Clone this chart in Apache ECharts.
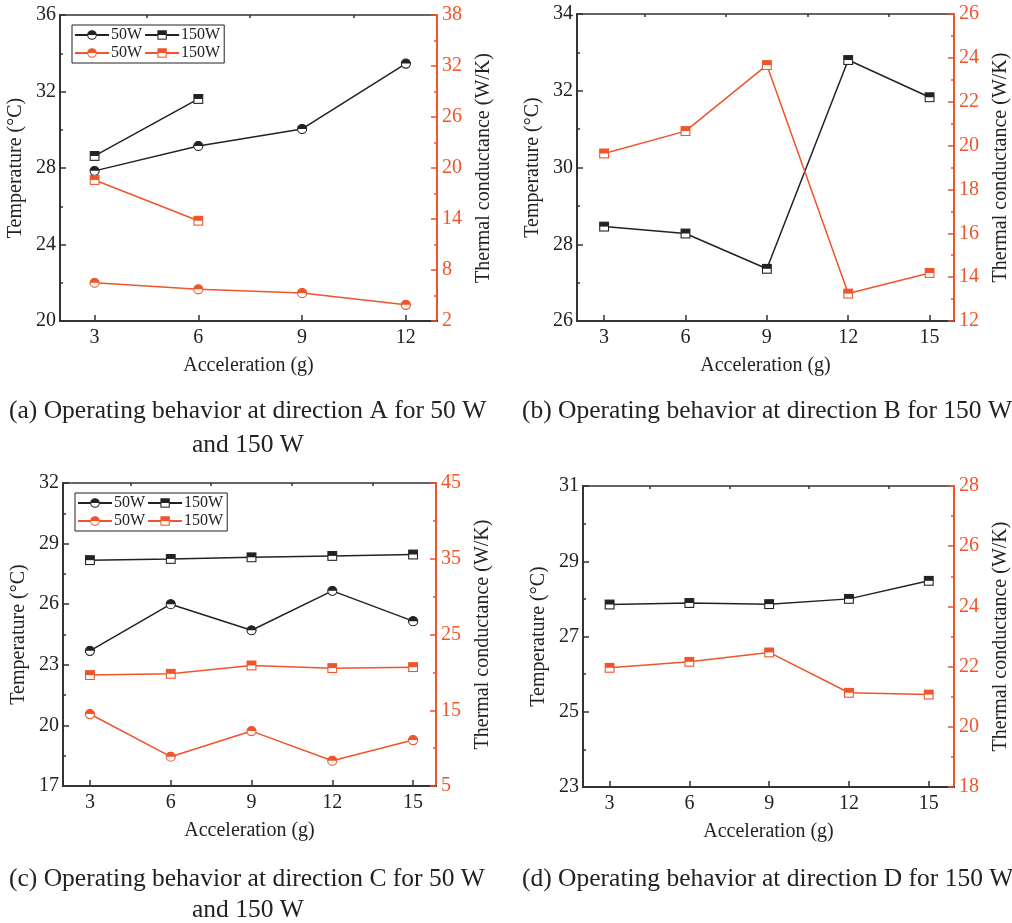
<!DOCTYPE html>
<html>
<head>
<meta charset="utf-8">
<script src="https://cdn.jsdelivr.net/npm/echarts@6/dist/echarts.min.js"></script>
<style>
  html, body { margin: 0; padding: 0; background: #fff; }
  #chart { width: 1012px; height: 923px; }
</style>
</head>
<body>
<div id="chart"></div>
<script>
// acceleration (g)
const accelA = [3, 6, 9, 12]
const accelA150 = [3, 6]
const accel = [3, 6, 9, 12, 15]

// (a) direction A
const tempA50 = [27.85, 29.15, 30.04, 33.46]
const tempA150 = [28.63, 31.61]
const condA50 = [6.5, 5.73, 5.3, 3.9]
const condA150 = [18.59, 13.8]

// (b) direction B, 150 W
const tempB150 = [28.46, 28.28, 27.36, 32.8, 31.83]
const condB150 = [19.64, 20.66, 23.67, 13.25, 14.19]

// (c) direction C
const tempC50 = [23.69, 26.0, 24.71, 26.66, 25.16]
const tempC150 = [28.18, 28.24, 28.32, 28.39, 28.46]
const condC50 = [14.5, 8.87, 12.25, 8.34, 11.07]
const condC150 = [19.64, 19.81, 20.91, 20.56, 20.69]

// (d) direction D, 150 W
const tempD150 = [27.85, 27.89, 27.86, 28.0, 28.48]
const condD150 = [21.96, 22.16, 22.47, 21.13, 21.07]

// tick labels
const xTicksA = [3, 6, 9, 12]
const xTicks = [3, 6, 9, 12, 15]
const tTicksA = [20, 24, 28, 32, 36]
const kTicksA = [2, 8, 14, 20, 26, 32, 38]
const tTicksB = [26, 28, 30, 32, 34]
const kTicksB = [12, 14, 16, 18, 20, 22, 24, 26]
const tTicksC = [17, 20, 23, 26, 29, 32]
const kTicksC = [5, 15, 25, 35, 45]
const tTicksD = [23, 25, 27, 29, 31]
const kTicksD = [18, 20, 22, 24, 26, 28]

const RED = '#f0542a'
const BLK = '#222222'
const AX = '#333333'
const FONT = 'Liberation Serif'

function marker(shape, color) {
  let s
  if (shape === 'circle') {
    s = "<svg xmlns='http://www.w3.org/2000/svg' width='20' height='20' viewBox='0 0 20 20'>" +
      "<circle cx='10' cy='10' r='8.3' fill='#fff'/>" +
      "<path d='M1.7,10 A8.3,8.3 0 0 1 18.3,10 Z' fill='" + color + "'/>" +
      "<circle cx='10' cy='10' r='8.3' fill='none' stroke='" + color + "' stroke-width='2'/></svg>"
  } else {
    s = "<svg xmlns='http://www.w3.org/2000/svg' width='20' height='20' viewBox='0 0 20 20'>" +
      "<rect x='2' y='2' width='16' height='16' fill='#fff'/>" +
      "<rect x='2' y='2' width='16' height='8' fill='" + color + "'/>" +
      "<rect x='2' y='2' width='16' height='16' fill='none' stroke='" + color + "' stroke-width='2'/></svg>"
  }
  return 'image://data:image/svg+xml;charset=utf-8,' + encodeURIComponent(s)
}

function mids(arr) {
  let out = []
  for (let i = 0; i < arr.length - 1; i++) out.push((arr[i] + arr[i + 1]) / 2)
  return out
}

function zip(xs, ys) {
  return ys.map((v, i) => [xs[i], v])
}

const panels = [
  {
    grid: { left: 60, top: 15, width: 377, height: 306 },
    xMin: 2, xMax: 12.9, xTicks: xTicksA,
    tMin: 20, tMax: 36, tTicks: tTicksA,
    kMin: 2, kMax: 38, kTicks: kTicksA,
    legend: { left: 72, top: 25 },
    lines: [
      { name: 'aT50', x: accelA, y: tempA50, color: BLK, shape: 'circle', axis: 0 },
      { name: 'aT150', x: accelA150, y: tempA150, color: BLK, shape: 'rect', axis: 0 },
      { name: 'aK50', x: accelA, y: condA50, color: RED, shape: 'circle', axis: 1 },
      { name: 'aK150', x: accelA150, y: condA150, color: RED, shape: 'rect', axis: 1 }
    ]
  },
  {
    grid: { left: 577, top: 14, width: 378, height: 307 },
    xMin: 2, xMax: 15.9, xTicks: xTicks,
    tMin: 26, tMax: 34, tTicks: tTicksB,
    kMin: 12, kMax: 26, kTicks: kTicksB,
    lines: [
      { name: 'bT150', x: accel, y: tempB150, color: BLK, shape: 'rect', axis: 0 },
      { name: 'bK150', x: accel, y: condB150, color: RED, shape: 'rect', axis: 1 }
    ]
  },
  {
    grid: { left: 63, top: 483, width: 373, height: 303 },
    xMin: 2, xMax: 15.85, xTicks: xTicks,
    tMin: 17, tMax: 32, tTicks: tTicksC,
    kMin: 5, kMax: 45, kTicks: kTicksC,
    legend: { left: 75, top: 493 },
    lines: [
      { name: 'cT50', x: accel, y: tempC50, color: BLK, shape: 'circle', axis: 0 },
      { name: 'cT150', x: accel, y: tempC150, color: BLK, shape: 'rect', axis: 0 },
      { name: 'cK50', x: accel, y: condC50, color: RED, shape: 'circle', axis: 1 },
      { name: 'cK150', x: accel, y: condC150, color: RED, shape: 'rect', axis: 1 }
    ]
  },
  {
    grid: { left: 583, top: 486, width: 374, height: 301 },
    xMin: 2, xMax: 15.95, xTicks: xTicks,
    tMin: 23, tMax: 31, tTicks: tTicksD,
    kMin: 18, kMax: 28, kTicks: kTicksD,
    lines: [
      { name: 'dT150', x: accel, y: tempD150, color: BLK, shape: 'rect', axis: 0 },
      { name: 'dK150', x: accel, y: condD150, color: RED, shape: 'rect', axis: 1 }
    ]
  }
]

let grids = [], xAxes = [], yAxes = [], series = [], legends = []

panels.forEach((p, gi) => {
  grids.push(Object.assign({ show: true, borderColor: AX, borderWidth: 1.5 }, p.grid))

  // x axis: main ticks + minor ticks
  xAxes.push({
    type: 'value', gridIndex: gi, min: p.xMin, max: p.xMax,
    name: 'Acceleration (g)', nameLocation: 'middle', nameGap: 35,
    nameTextStyle: { fontFamily: FONT, fontSize: 20, color: BLK },
    axisLine: { show: true, lineStyle: { color: AX, width: 2 } },
    axisTick: { show: true, inside: true, length: 6, customValues: p.xTicks, lineStyle: { color: AX, width: 1.5 } },
    axisLabel: { customValues: p.xTicks, fontFamily: FONT, fontSize: 20, color: BLK, margin: 7 },
    splitLine: { show: false }
  })
  xAxes.push({
    type: 'value', gridIndex: gi, min: p.xMin, max: p.xMax,
    axisLine: { show: false },
    axisTick: { show: true, inside: true, length: 3, customValues: mids(p.xTicks), lineStyle: { color: AX, width: 1.5 } },
    axisLabel: { show: false },
    splitLine: { show: false }
  })

  let y0 = yAxes.length
  // left temperature axis
  yAxes.push({
    type: 'value', gridIndex: gi, position: 'left', min: p.tMin, max: p.tMax,
    name: 'Temperature (°C)', nameLocation: 'middle', nameGap: 34,
    nameTextStyle: { fontFamily: FONT, fontSize: 20, color: BLK },
    axisLine: { show: true, lineStyle: { color: AX, width: 2 } },
    axisTick: { show: true, inside: true, length: 6, customValues: p.tTicks, lineStyle: { color: AX, width: 1.5 } },
    axisLabel: { customValues: p.tTicks, fontFamily: FONT, fontSize: 20, color: BLK, margin: 4 },
    splitLine: { show: false }
  })
  // right conductance axis
  yAxes.push({
    type: 'value', gridIndex: gi, position: 'right', min: p.kMin, max: p.kMax,
    name: 'Thermal conductance (W/K)', nameLocation: 'middle', nameGap: 37, nameRotate: 90,
    nameTextStyle: { fontFamily: FONT, fontSize: 20, color: BLK },
    axisLine: { show: true, lineStyle: { color: RED, width: 2 } },
    axisTick: { show: true, inside: true, length: 6, customValues: p.kTicks, lineStyle: { color: RED, width: 1.5 } },
    axisLabel: { customValues: p.kTicks, fontFamily: FONT, fontSize: 20, color: RED, margin: 5 },
    splitLine: { show: false }
  })
  // minor ticks
  yAxes.push({
    type: 'value', gridIndex: gi, position: 'left', min: p.tMin, max: p.tMax,
    axisLine: { show: false }, axisLabel: { show: false }, splitLine: { show: false },
    axisTick: { show: true, inside: true, length: 3, customValues: mids(p.tTicks), lineStyle: { color: AX, width: 1.5 } }
  })
  yAxes.push({
    type: 'value', gridIndex: gi, position: 'right', min: p.kMin, max: p.kMax,
    axisLine: { show: false }, axisLabel: { show: false }, splitLine: { show: false },
    axisTick: { show: true, inside: true, length: 3, customValues: mids(p.kTicks), lineStyle: { color: RED, width: 1.5 } }
  })

  p.lines.forEach(l => {
    series.push({
      type: 'line', name: l.name,
      xAxisIndex: gi * 2, yAxisIndex: y0 + l.axis,
      data: zip(l.x, l.y),
      symbol: marker(l.shape, l.color), symbolSize: 11,
      lineStyle: { color: l.color, width: 1.5 },
      itemStyle: { color: l.color },
      animation: false
    })
  })

  if (p.legend) {
    legends.push({
      left: p.legend.left, top: p.legend.top, width: 150,
      orient: 'horizontal',
      data: p.lines.map(l => l.name),
      formatter: n => n.replace(/^[a-d][TK]/, '') + 'W',
      itemWidth: 34, itemHeight: 13, itemGap: 2,
      padding: [2, 4, 2, 2],
      borderColor: BLK, borderWidth: 1,
      selectedMode: false,
      textStyle: { fontFamily: FONT, fontSize: 16, color: BLK, padding: [0, 0, 0, -3] }
    })
  }
})

const capFont = '25.5px "Liberation Serif"'
const captions = [
  { text: '(a) Operating behavior at direction A for 50 W', left: 9, top: 398 },
  { text: 'and 150 W', left: 192, top: 432 },
  { text: '(b) Operating behavior at direction B for 150 W', left: 522, top: 398 },
  { text: '(c) Operating behavior at direction C for 50 W', left: 9, top: 866 },
  { text: 'and 150 W', left: 192, top: 897 },
  { text: '(d) Operating behavior at direction D for 150 W', left: 522, top: 866 }
]

let myChart = echarts.init(document.getElementById('chart'))
myChart.setOption({
  animation: false,
  textStyle: { fontFamily: FONT },
  grid: grids,
  xAxis: xAxes,
  yAxis: yAxes,
  legend: legends,
  series: series,
  graphic: captions.map(c => ({
    type: 'text', left: c.left, top: c.top,
    style: { text: c.text, font: capFont, fill: BLK }
  }))
})
</script>
</body>
</html>
